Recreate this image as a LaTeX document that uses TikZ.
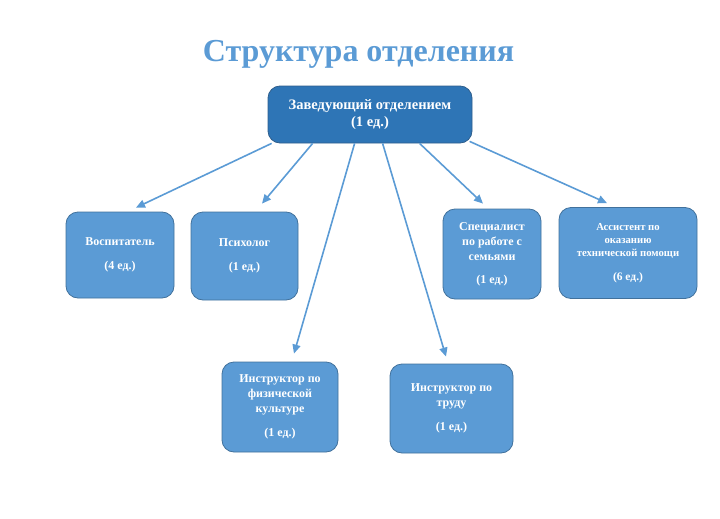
\documentclass[tikz,border=0pt]{standalone}
\usepackage{fontspec}
\setmainfont{Liberation Serif}
\usetikzlibrary{arrows.meta}
\definecolor{titleblue}{HTML}{5B9BD5}
\definecolor{headblue}{HTML}{2E75B6}
\definecolor{headedge}{HTML}{2E5E8C}
\definecolor{unitblue}{HTML}{5B9BD5}
\definecolor{unitedge}{HTML}{41719C}
\tikzstyle{unit}=[draw=unitedge, fill=unitblue, line width=0.8pt, rounded corners=12pt, text=white, align=center, font=\bfseries\fontsize{12}{15}\selectfont]
\tikzstyle{link}=[draw=titleblue, line width=1.6pt, -{Triangle[length=9pt, width=8pt]}]

\begin{document}
\begin{tikzpicture}[x=1pt, y=-1pt]
	\useasboundingbox (0,0) rectangle (720,519);

	\node (title) at (358.5,54) {\color{titleblue}\bfseries\fontsize{32}{36}\selectfont Структура отделения};

	\node[unit, fill=headblue, draw=headedge, minimum width=204pt, minimum height=57pt, font=\bfseries\fontsize{14.5}{17}\selectfont] (head) at (370,114.5)
		{Заведующий отделением\\(1 ед.)};

	\node[unit, minimum width=108pt, minimum height=86pt] (vosp) at (120,255)
		{Воспитатель\\[9pt](4 ед.)};
	\node[unit, minimum width=107pt, minimum height=88pt] (psy) at (244.5,256)
		{Психолог\\[9pt](1 ед.)};
	\node[unit, minimum width=98pt, minimum height=90pt] (spec) at (492,254)
		{Специалист\\по работе с\\семьями\\[8pt](1 ед.)};
	\node[unit, minimum width=138pt, minimum height=91pt, font=\bfseries\fontsize{10.7}{12.8}\selectfont] (asst) at (628,253)
		{Ассистент по\\оказанию\\технической помощи\\[11pt]{\fontsize{11.5}{13}\selectfont(6 ед.)}};
	\node[unit, minimum width=116pt, minimum height=90pt] (phys) at (280,407)
		{Инструктор по\\физической\\культуре\\[9pt](1 ед.)};
	\node[unit, minimum width=123pt, minimum height=89pt] (labor) at (451.5,408.5)
		{Инструктор по\\труду\\[9pt](1 ед.)};

	% start points on the bottom of the head box
	\coordinate (s1) at ([xshift=4pt]head.south west);
	\coordinate (s2) at ([xshift=45pt]head.south west);
	\coordinate (s3) at ([xshift=87pt]head.south west);
	\coordinate (s4) at ([xshift=115pt]head.south west);
	\coordinate (s5) at ([xshift=152pt]head.south west);
	\coordinate (s6) at ([xshift=202pt,yshift=2pt]head.south west);

	% arrow tips above the units
	\coordinate (t1) at ([xshift=16pt,yshift=4pt]vosp.north);
	\coordinate (t2) at ([xshift=17.5pt,yshift=8pt]psy.north);
	\coordinate (t3) at ([xshift=14pt,yshift=8pt]phys.north);
	\coordinate (t4) at ([xshift=-5.5pt,yshift=7pt]labor.north);
	\coordinate (t5) at ([xshift=-9pt,yshift=5pt]spec.north);
	\coordinate (t6) at ([xshift=-21pt,yshift=4pt]asst.north);

	\draw[link] (s1) -- (t1);
	\draw[link] (s2) -- (t2);
	\draw[link] (s3) -- (t3);
	\draw[link] (s4) -- (t4);
	\draw[link] (s5) -- (t5);
	\draw[link] (s6) -- (t6);
\end{tikzpicture}
\end{document}
